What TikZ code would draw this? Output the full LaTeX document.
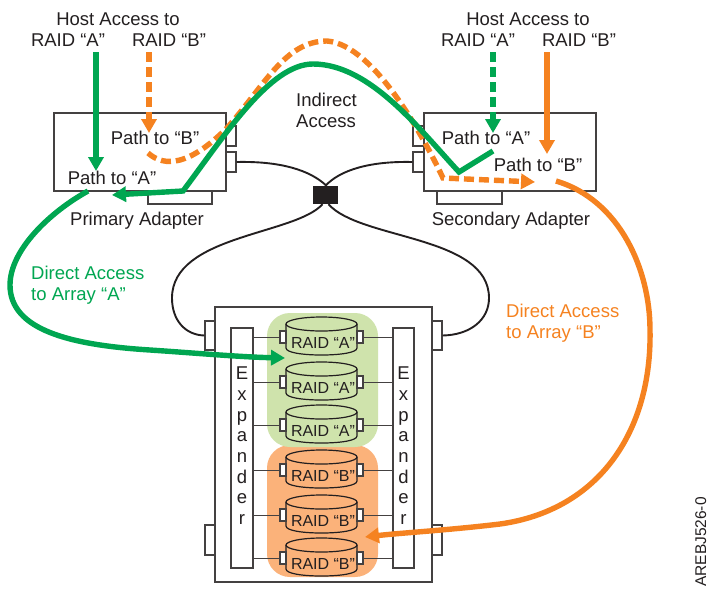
\documentclass[tikz,border=0pt]{standalone}
\usepackage{fontspec}
\setmainfont{Liberation Sans}
\usetikzlibrary{arrows.meta}
\definecolor{ink}{HTML}{231F20}
\definecolor{grn}{HTML}{00A651}
\definecolor{org}{HTML}{F58220}
\definecolor{grnpanel}{HTML}{CFE3AC}
\definecolor{orgpanel}{HTML}{FBB27A}
\tikzset{
  txt/.style={inner sep=0pt,anchor=base,text=ink,font=\fontsize{18.5}{20}\selectfont},
  txtl/.style={txt,anchor=base west},
  boxw/.style={draw=ink!85,line width=1.2pt,fill=white,inner sep=0pt},
  cable/.style={draw=ink,line width=1.9pt},
  wire/.style={draw=ink!85,line width=1pt},
  flow/.style={line width=5.4pt,-{Triangle[length=14pt,width=15pt]}},
  flowdash/.style={flow,dash pattern=on 10pt off 5pt},
  panel/.style={inner sep=0pt,rounded corners=23pt,minimum width=111pt},
  driveline/.style={draw=ink,line width=1.2pt},
  portb/.style={boxw,minimum width=6pt,minimum height=12pt}
}
\begin{document}
\begin{tikzpicture}[x=1pt,y=-1pt]
\useasboundingbox (0,0) rectangle (709,590);
% enclosure ports and enclosure
\node[boxw,minimum width=10pt,minimum height=29pt] (elu) at (210,335.5) {};
\node[boxw,minimum width=10pt,minimum height=29pt] (eru) at (437,335.5) {};
\node[boxw,minimum width=10pt,minimum height=30pt] (eld) at (210,540) {};
\node[boxw,minimum width=10pt,minimum height=30pt] (erd) at (437,540) {};
\node[boxw,minimum width=217pt,minimum height=275pt] (encl) at (323.5,444.5) {};
% panels
\node[panel,fill=orgpanel,minimum height=132pt] (pb) at (322.5,511) {};
\node[panel,fill=grnpanel,minimum height=134pt] (pa) at (322.5,380) {};
% expanders
\node[boxw,minimum width=22pt,minimum height=240pt] (expl) at (242,448) {};
\node[boxw,minimum width=21pt,minimum height=240pt] (expr) at (403.5,448) {};
\foreach \n/\ch/\b in {1/E/379,2/x/400,3/p/421,4/a/441,5/n/462,6/d/483,7/e/503,8/r/524}{
  \node[txt] (xl\n) at (242,\b) {\ch};
  \node[txt] (xr\n) at (403.5,\b) {\ch};
}
% drives
\foreach \i/\t/\top in {1/A/317,2/A/362,3/A/405,4/B/450,5/B/495,6/B/538}{
  \draw[driveline] (321.5,\top+7) ellipse [x radius=35.5,y radius=7];
  \draw[driveline] (286,\top+7) -- (286,\top+31) .. controls (286,\top+35.5) and (302,\top+38) .. (321.5,\top+38) .. controls (341,\top+38) and (357,\top+35.5) .. (357,\top+31) -- (357,\top+7);
  \node[txt,font=\fontsize{16}{18}\selectfont] (dt\i) at (323,\top+31) {RAID “\t”};
  \node[portb] (pl\i) at (283,\top+20) {};
  \node[portb] (pr\i) at (360,\top+20) {};
  \draw[wire] (expl.east |- pl\i.west) -- (pl\i.west);
  \draw[wire] (pr\i.east) -- (expr.west |- pr\i.east);
}
% adapters
\node[boxw,minimum width=10pt,minimum height=20pt] (p1) at (231,136) {};
\node[boxw,minimum width=10pt,minimum height=20pt] (p2) at (231,162) {};
\node[boxw,minimum width=64pt,minimum height=13pt] (ptab) at (180,197.5) {};
\node[boxw,minimum width=172pt,minimum height=78pt] (prim) at (140,152) {};
\node[boxw,minimum width=11pt,minimum height=20pt] (s1) at (418.5,136) {};
\node[boxw,minimum width=11pt,minimum height=20pt] (s2) at (418.5,162) {};
\node[boxw,minimum width=65pt,minimum height=13pt] (stab) at (469.5,197.5) {};
\node[boxw,minimum width=172pt,minimum height=78pt] (sec) at (510,152) {};
% switch
\node[fill=ink,inner sep=0pt,minimum width=25pt,minimum height=18pt] (sw) at (325.5,195) {};
\draw[cable] (p2.east) .. controls (280,161) and (310,170) .. ([xshift=1pt]sw.north);
\draw[cable] (s2.west) .. controls (370,161) and (340,170) .. (sw.north);
\draw[cable] ([xshift=-3pt]sw.south) .. controls (295,235) and (172,235) .. (172,298) .. controls (172,320) and (185,335) .. (elu.west);
\draw[cable] ([xshift=3pt]sw.south) .. controls (360,240) and (489,235) .. (489,298) .. controls (489,320) and (470,335) .. (eru.east);
% free ends
\coordinate (hga) at (96,52);
\coordinate (hgt) at (96,171);
\coordinate (hoa) at (149,52);
\coordinate (hot) at (149,133);
\coordinate (sga) at (493,52);
\coordinate (sgt) at (493,133);
\coordinate (soa) at (547,52);
\coordinate (sot) at (547,154);
% flows
\draw[flow,draw=grn] (hga) -- (hgt);
\draw[flowdash,draw=org] (hoa) -- (hot);
\draw[flowdash,draw=grn] (sga) -- (sgt);
\draw[flow,draw=org] (soa) -- (sot);
\draw[flowdash,draw=org] (148,153) .. controls (165,168) and (190,165) .. (227,128)
  .. controls (265,85) and (285,41) .. (327,41)
  .. controls (375,45) and (425,140) .. (443,178) -- (535,182);
\draw[flow,draw=grn,line join=miter] (493,151) -- (459,172) .. controls (420,130) and (370,64) .. (313,64)
  .. controls (270,64) and (225,135) .. (183,191) -- (112,195);
\draw[flow,draw=grn] (88,191) .. controls (50,212) and (10,250) .. (10,285)
  .. controls (10,330) and (70,345) .. (150,350) .. controls (195,353) and (240,357) .. (285,358);
\draw[flow,draw=org] (556,181) .. controls (620,200) and (650,270) .. (650,330)
  .. controls (652,430) and (600,510) .. (500,524) .. controls (450,530) and (400,533) .. (365,537);
% labels
\node[txt] (t1) at (118,25) {Host Access to};
\node[txt] (t2) at (68,46) {RAID “A”};
\node[txt] (t3) at (169,46) {RAID “B”};
\node[txt] (t4) at (528,25) {Host Access to};
\node[txt] (t5) at (478,46) {RAID “A”};
\node[txt] (t6) at (579,46) {RAID “B”};
\node[txt] (t7) at (155,144) {Path to “B”};
\node[txt] (t8) at (112,184) {Path to “A”};
\node[txt] (t9) at (137,225) {Primary Adapter};
\node[txtl] (t10) at (296,106) {Indirect};
\node[txtl] (t11) at (296,127) {Access};
\node[txt] (t12) at (486,144) {Path to “A”};
\node[txt] (t13) at (538,171) {Path to “B”};
\node[txt] (t14) at (511,225) {Secondary Adapter};
\node[txtl,text=grn] (t15) at (31,279) {Direct Access};
\node[txtl,text=grn] (t16) at (31,300) {to Array “A”};
\node[txtl,text=org] (t17) at (506,317) {Direct Access};
\node[txtl,text=org] (t18) at (506,338) {to Array “B”};
\node[txt,rotate=90,anchor=base,font=\fontsize{15.5}{18}\selectfont] (t19) at (706,542) {AREBJ526-0};
\end{tikzpicture}
\end{document}
